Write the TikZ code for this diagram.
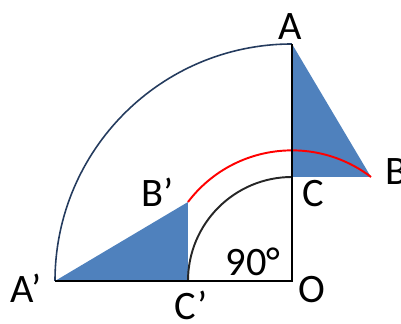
\documentclass[tikz,border=0pt]{standalone}
\usepackage{fontspec}
\setmainfont{Carlito}
\usetikzlibrary{calc}
\definecolor{fillblue}{HTML}{4F81BD}
\definecolor{arcnavy}{HTML}{243B5E}

\begin{document}
\begin{tikzpicture}[x=1cm,y=1cm,
  font=\fontsize{11.5}{13}\selectfont,
  side/.style={draw=black,line width=0.75pt},
  piece/.style={fill=fillblue,draw=none},
  outer/.style={draw=arcnavy,line width=0.45pt},
  inner/.style={draw=black!85,line width=0.55pt},
  path arc/.style={draw=red,line width=0.55pt},
  lbl/.style={inner sep=0pt}]
\useasboundingbox (-2.92,-0.43) rectangle (1.09,2.81);
\coordinate (O) at (0,0);
\coordinate (A) at (0,2.37);
\coordinate (B) at (0.79,1.04);
\coordinate (C) at (0,1.04);
\coordinate (A') at (-2.37,0);
\coordinate (B') at (-1.04,0.79);
\coordinate (C') at (-1.04,0);

\path[piece] (A)--(B)--(C)--cycle;
\path[piece] (A')--(B')--(C')--cycle;
\draw[outer] (A') arc[start angle=180,end angle=90,radius=2.37];
\draw[inner] (C') arc[start angle=180,end angle=90,radius=1.04];
\draw[path arc] (B') arc[start angle={atan2(0.79,-1.04)},end angle={atan2(1.04,0.79)},radius={veclen(0.79,1.04)}];
\draw[side] (A')--(O)--(A);

\node[lbl] (a_lbl) at (-0.02,2.54) {A};
\node[lbl] (b_lbl) at (1.04,1.09) {B};
\node[lbl] (c_lbl) at (0.21,0.87) {C};
\node[lbl] (a2_lbl) at (-2.66,-0.07) {A’};
\node[lbl] (b2_lbl) at (-1.34,0.89) {B’};
\node[lbl] (c2_lbl) at (-1.01,-0.24) {C’};
\node[lbl] (o_lbl) at (0.20,-0.09) {O};
\node[lbl] (angle) at (-0.39,0.19) {90°};
\end{tikzpicture}
\end{document}
